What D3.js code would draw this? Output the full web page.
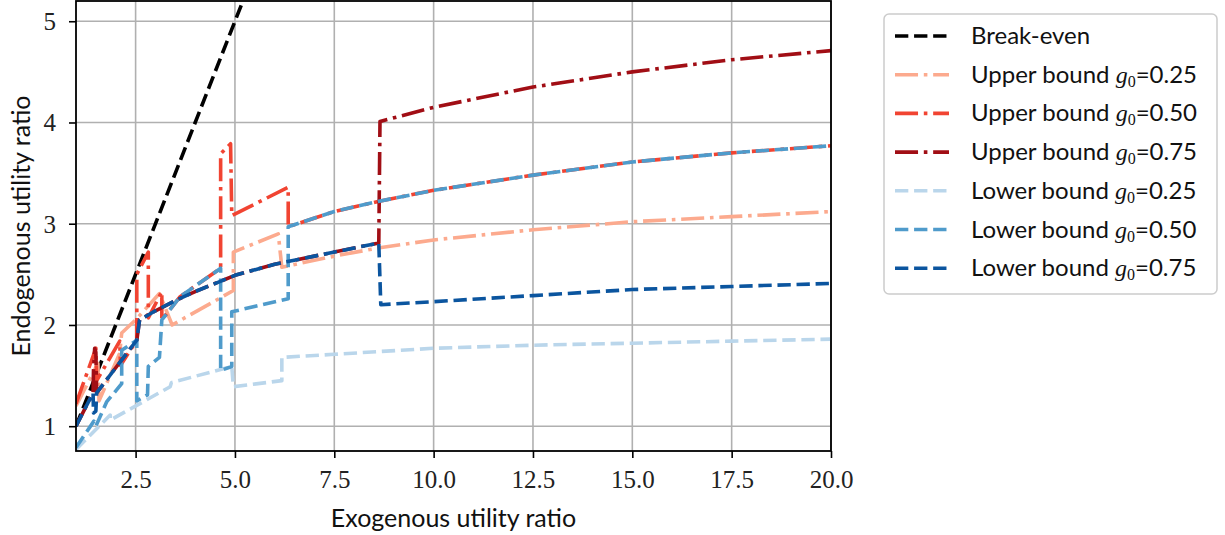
<!DOCTYPE html>
<html><head><meta charset="utf-8">
<script src="https://cdn.jsdelivr.net/npm/d3@7"></script>
<style>
body{margin:0;background:#fff;}
svg{display:block;}
</style></head><body>
<svg id="chart" width="1225" height="535"></svg>
<script>
// ---- data ----
const xTicks = [2.5, 5, 7.5, 10, 12.5, 15, 17.5, 20];
const yTicks = [1, 2, 3, 4, 5];
const seriesLabels = ["Break-even", "Upper bound", "Upper bound", "Upper bound", "Lower bound", "Lower bound", "Lower bound"];
const seriesG0 = [null, "0.25", "0.50", "0.75", "0.25", "0.50", "0.75"];
const seriesColors = ["#000000", "#fcaa8e", "#f14432", "#a10e15", "#bad6eb", "#4f9bcb", "#0b559f"];
const seriesStyles = ["dash", "dashdot", "dashdot", "dashdot", "dash", "dash", "dash"];

const breakEven = [[1, 1], [20, 20]];
const upper025 = [[1, 1.20], [1.55, 1.62], [1.58, 1.25], [2.1, 1.72], [2.15, 1.92], [2.5, 2.05], [3.1, 2.31], [3.42, 2.0], [4.96, 2.34], [4.96, 2.72], [6.09, 2.90], [6.18, 2.57], [7.5, 2.68], [8.6, 2.76], [10, 2.84], [12.5, 2.94], [15, 3.02], [17.5, 3.07], [20, 3.12]];
const upper050 = [[1, 1.22], [1.5, 1.77], [1.52, 1.45], [2.1, 1.84], [2.12, 1.6], [2.53, 1.85], [2.53, 2.5], [2.82, 2.72], [2.82, 2.07], [3.16, 2.33], [3.16, 2.05], [3.62, 2.28], [4.64, 2.56], [4.64, 3.69], [4.89, 3.79], [4.92, 3.08], [6.34, 3.36], [6.34, 2.97], [7.5, 3.12], [8.6, 3.22], [10, 3.33], [12.5, 3.48], [15, 3.61], [17.5, 3.70], [20, 3.77]];
const upper075 = [[1, 1], [1.43, 1.33], [1.44, 1.55], [1.47, 1.77], [1.5, 1.73], [1.52, 1.33], [2.53, 1.85], [2.6, 2.05], [3, 2.14], [3.5, 2.24], [4, 2.33], [5, 2.49], [6, 2.6], [7, 2.68], [8, 2.76], [8.62, 2.81], [8.65, 4.01], [10, 4.15], [12.5, 4.35], [15, 4.50], [17.5, 4.62], [20, 4.71]];
const lower025 = [[1, 0.77], [1.86, 1.11], [1.86, 1.06], [3.37, 1.39], [3.4, 1.43], [4.92, 1.59], [4.96, 1.39], [6.18, 1.45], [6.18, 1.68], [7.5, 1.71], [10, 1.77], [12.5, 1.80], [15, 1.82], [17.5, 1.84], [20, 1.86]];
const lower050 = [[1, 0.79], [1.45, 1.05], [1.5, 1.0], [1.77, 1.24], [2.15, 1.42], [2.15, 1.75], [2.53, 1.85], [2.53, 1.25], [2.8, 1.31], [2.82, 1.59], [3.1, 1.68], [3.16, 2.05], [3.62, 2.28], [4.64, 2.56], [4.64, 1.55], [4.92, 1.59], [4.92, 2.13], [6.34, 2.26], [6.34, 2.97], [7.5, 3.12], [8.6, 3.22], [10, 3.33], [12.5, 3.48], [15, 3.61], [17.5, 3.70], [20, 3.77]];
const lower075 = [[1, 1], [1.43, 1.33], [1.44, 1.13], [1.5, 1.15], [1.52, 1.33], [2.53, 1.85], [2.6, 2.05], [3, 2.14], [3.5, 2.24], [4, 2.33], [5, 2.49], [6, 2.6], [7, 2.68], [8, 2.76], [8.62, 2.81], [8.67, 2.2], [10, 2.23], [12.5, 2.29], [15, 2.35], [17.5, 2.38], [20, 2.41]];
const allSeries = [breakEven, upper025, upper050, upper075, lower025, lower050, lower075];

// ---- layout ----
const svg = d3.select("#chart");
const M = {left: 76, top: 1, right: 831, bottom: 451};
const x = d3.scaleLinear().domain([1, 20]).range([M.left, M.right]);
const y = d3.scaleLinear().domain([0.755, 5.2]).range([M.bottom, M.top]);
const LW = 3.6;
const dashes = {dash: `${3.7*LW},${1.6*LW}`, dashdot: `${6.4*LW},${1.6*LW},${1*LW},${1.6*LW}`};
const SANS = "Lato, sans-serif";
const SERIF = "'Liberation Serif', 'DejaVu Serif', serif";

svg.append("defs").append("clipPath").attr("id", "clip")
  .append("rect").attr("x", M.left).attr("y", M.top).attr("width", M.right - M.left).attr("height", M.bottom - M.top);

// grid
const grid = svg.append("g");
grid.selectAll(".gx").data(xTicks).join("line")
  .attr("x1", d => x(d)).attr("x2", d => x(d)).attr("y1", M.top).attr("y2", M.bottom)
  .attr("stroke", "#b0b0b0").attr("stroke-width", 1.6);
grid.selectAll(".gy").data(yTicks).join("line")
  .attr("x1", M.left).attr("x2", M.right).attr("y1", d => y(d)).attr("y2", d => y(d))
  .attr("stroke", "#b0b0b0").attr("stroke-width", 1.6);

// lines
const line = d3.line().x(d => x(d[0])).y(d => y(d[1]));
const plot = svg.append("g").attr("clip-path", "url(#clip)");
allSeries.forEach((s, i) => {
  plot.append("path").datum(s).attr("d", line)
    .attr("fill", "none").attr("stroke", seriesColors[i]).attr("stroke-width", LW)
    .attr("stroke-dasharray", dashes[seriesStyles[i]]).attr("stroke-linejoin", "round");
});

// axes
const xAxis = d3.axisBottom(x).tickValues(xTicks).tickFormat(d3.format(".1f")).tickSize(7).tickPadding(12);
const yAxis = d3.axisLeft(y).tickValues(yTicks).tickFormat(d3.format("d")).tickSize(7).tickPadding(13);
const gx = svg.append("g").attr("transform", `translate(0,${M.bottom})`).call(xAxis);
const gy = svg.append("g").attr("transform", `translate(${M.left},0)`).call(yAxis);
[gx, gy].forEach(g => {
  g.attr("font-family", null).attr("font-size", null);
  g.select(".domain").remove();
  g.selectAll(".tick line").attr("stroke", "#000").attr("stroke-width", 1.6);
  g.selectAll(".tick text").style("font-family", SERIF).style("font-size", "25px").attr("fill", "#222");
});
gy.selectAll(".tick text").attr("dy", "0.34em");
svg.append("rect").attr("x", M.left).attr("y", M.top).attr("width", M.right - M.left).attr("height", M.bottom - M.top)
  .attr("fill", "none").attr("stroke", "#000").attr("stroke-width", 1.8);

// axis titles
svg.append("text").attr("x", (M.left + M.right) / 2).attr("y", 527).attr("text-anchor", "middle")
  .style("font-family", SANS).style("font-size", "25px").attr("fill", "#111").text("Exogenous utility ratio");
svg.append("text").attr("transform", `translate(30,${(M.top + M.bottom) / 2}) rotate(-90)`).attr("text-anchor", "middle")
  .style("font-family", SANS).style("font-size", "25px").attr("fill", "#111").text("Endogenous utility ratio");

// legend
const lg = svg.append("g");
lg.append("rect").attr("x", 884).attr("y", 14).attr("width", 333).attr("height", 280).attr("rx", 5)
  .attr("fill", "#fff").attr("stroke", "#cccccc").attr("stroke-width", 1.5);
seriesLabels.forEach((lab, i) => {
  const yy = 36 + i * 38.7;
  lg.append("line").attr("x1", 895).attr("x2", 949).attr("y1", yy).attr("y2", yy)
    .attr("stroke", seriesColors[i]).attr("stroke-width", LW).attr("stroke-dasharray", dashes[seriesStyles[i]]);
  const t = lg.append("text").attr("x", 971).attr("y", yy + 8)
    .style("font-family", SANS).style("font-size", "24px").attr("fill", "#111");
  t.append("tspan").text(lab);
  if (seriesG0[i]) {
    t.append("tspan").text(" ");
    t.append("tspan").style("font-family", SERIF).style("font-style", "italic").text("g");
    t.append("tspan").style("font-family", SERIF).style("font-size", "16px").attr("dy", 4).text("0");
    t.append("tspan").attr("dy", -4).text("=" + seriesG0[i]);
  }
});
</script></body></html>
